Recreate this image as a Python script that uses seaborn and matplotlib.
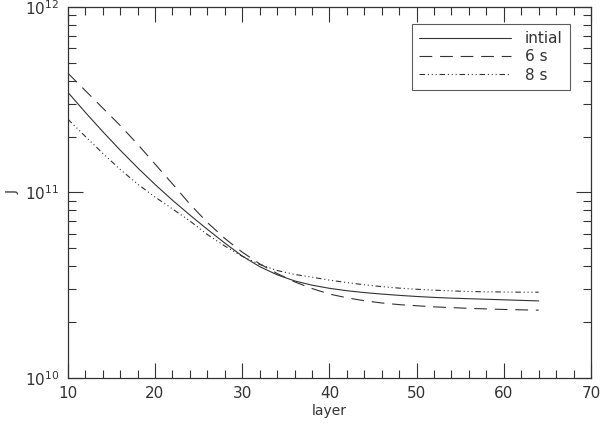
import numpy as np
import pandas as pd
import matplotlib
matplotlib.use("Agg")
import matplotlib.pyplot as plt
from matplotlib.ticker import LogLocator, MultipleLocator, NullFormatter
import seaborn as sns

# values (log10 of J)
layers = [10, 12, 14, 16, 18, 20, 22, 24, 26, 28, 30, 32, 34, 36,
          38, 40, 42, 44, 46, 48, 50, 52, 54, 56, 58, 60, 62, 64]
logj_initial = [11.540, 11.432, 11.328, 11.228, 11.133, 11.043, 10.958, 10.878, 10.801, 10.727,
                10.657, 10.600, 10.556, 10.523, 10.500, 10.483, 10.470, 10.460, 10.452, 10.445,
                10.439, 10.434, 10.430, 10.427, 10.424, 10.421, 10.418, 10.415]
logj_6s = [11.643, 11.549, 11.455, 11.361, 11.260, 11.153, 11.046, 10.937, 10.838, 10.752,
           10.678, 10.615, 10.563, 10.518, 10.482, 10.452, 10.432, 10.416, 10.404, 10.395,
           10.389, 10.383, 10.379, 10.375, 10.372, 10.369, 10.367, 10.365]
logj_8s = [11.395, 11.302, 11.211, 11.124, 11.045, 10.975, 10.911, 10.846, 10.773, 10.711,
           10.656, 10.612, 10.579, 10.558, 10.543, 10.527, 10.514, 10.502, 10.492, 10.484,
           10.478, 10.473, 10.469, 10.466, 10.464, 10.463, 10.462, 10.462]
labels = ['intial', '6 s', '8 s']

df = pd.concat([
    pd.DataFrame({'layer': layers, 'J': np.power(10.0, logj_initial), 'run': labels[0]}),
    pd.DataFrame({'layer': layers, 'J': np.power(10.0, logj_6s), 'run': labels[1]}),
    pd.DataFrame({'layer': layers, 'J': np.power(10.0, logj_8s), 'run': labels[2]}),
])

sns.set_style("white")
plt.rcParams['font.family'] = ['DejaVu Sans']
ink = '#333333'

fig = plt.figure(figsize=(6, 4.28), dpi=100)
ax = fig.add_axes([0.113, 0.117, 0.872, 0.867])

dashes = {labels[0]: '', labels[1]: (11.5, 7), labels[2]: (5, 2.5, 1, 2.5, 1, 2.5, 1, 2.5)}
sns.lineplot(data=df, x='layer', y='J', style='run', dashes=dashes, color=ink,
             linewidth=0.8, ax=ax, legend=True)

ax.set_yscale('log')
ax.set_xlim(10, 70)
ax.set_ylim(1e10, 1e12)
ax.xaxis.set_major_locator(MultipleLocator(10))
ax.xaxis.set_minor_locator(MultipleLocator(2))
ax.yaxis.set_major_locator(LogLocator(base=10))
ax.yaxis.set_minor_locator(LogLocator(base=10, subs=np.arange(2, 10)))
ax.yaxis.set_minor_formatter(NullFormatter())

ax.tick_params(which='both', direction='in', bottom=True, left=True, top=True, right=True,
               colors=ink, labelsize=11, width=0.8)
ax.tick_params(which='major', length=11, pad=6)
ax.tick_params(which='minor', length=6)
for s in ax.spines.values():
    s.set_color(ink)
    s.set_linewidth(0.9)

ax.set_xlabel('layer', fontsize=10, color=ink, labelpad=2)
ax.set_ylabel('J', fontsize=10, color=ink, labelpad=4)

leg = ax.legend(title=None, loc='upper right', bbox_to_anchor=(0.975, 0.975), frameon=True,
                fancybox=False, handlelength=6.0, fontsize=11, labelspacing=0.2,
                borderpad=0.5, handletextpad=0.9)
leg.get_frame().set_edgecolor(ink)
leg.get_frame().set_linewidth(0.8)
for t in leg.get_texts():
    t.set_color(ink)

fig.savefig('out.png', dpi=100)
